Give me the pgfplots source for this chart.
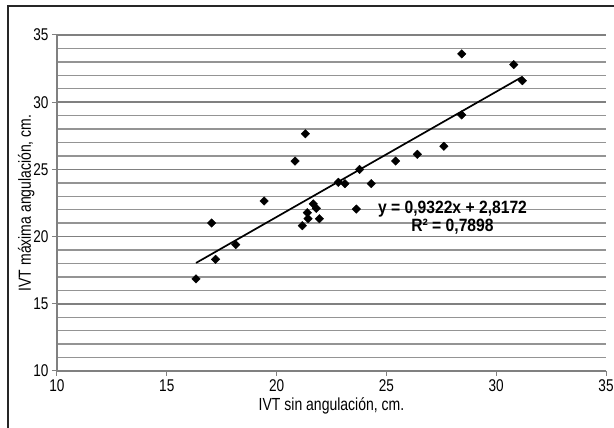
\documentclass[border=0pt]{standalone}
\usepackage{fontspec}
\setmainfont{Liberation Sans}[FakeStretch=0.8]
\newfontfamily\eqfont{Liberation Sans}[FakeStretch=0.88]
\usepackage{pgfplots}
\pgfplotsset{compat=1.18}
\begin{document}
\begin{tikzpicture}[x=1pt,y=1pt]
\useasboundingbox (0,0) rectangle (614,428);
\draw[line width=2.5pt, black!85] (8,0) -- (8,422) -- (614,422);
\begin{axis}[
  at={(57pt,57pt)}, anchor=south west,
  scale only axis, width=549pt, height=336pt,
  xmin=10, xmax=35, ymin=10, ymax=35,
  xtick={10,15,...,35}, ytick={10,15,...,35},
  minor ytick={11,...,34},
  ymajorgrids, yminorgrids,
  major grid style={black!50, line width=1.5pt},
  minor grid style={black!42, line width=1.4pt},
  axis x line*=bottom, axis y line*=left,
  axis line style={black!50, line width=1.6pt, -},
  tick style={black!50, line width=1pt},
  major tick length=5pt, minor tick length=0pt,
  tick align=outside,
  ticklabel style={font=\fontsize{17}{18}\selectfont},
  /pgf/number format/assume math mode=true,
  xlabel={IVT sin angulación, cm.},
  ylabel={IVT máxima angulación, cm.},
  label style={font=\fontsize{17.5}{19}\selectfont},
  xlabel style={at={(axis description cs:0.5,0)}, anchor=base, yshift=-40pt},
  ylabel style={at={(axis description cs:0,0.5)}, anchor=base, yshift=26pt},
  clip=false,
]
\addplot[only marks, black, mark=square*, mark size=3pt, mark options={rotate=45, fill=black}] coordinates {
(16.33,16.85) (17.04,21.01) (17.22,18.31) (18.14,19.40) (19.43,22.65)
(20.84,25.62) (21.31,27.65) (21.17,20.81) (21.40,21.78) (21.43,21.33)
(21.67,22.43) (21.81,22.10) (21.95,21.33) (22.81,24.04) (23.11,23.94)
(23.78,25.00) (23.63,22.05) (24.31,23.94) (25.42,25.62) (26.41,26.12)
(27.62,26.72) (28.43,33.60) (28.43,29.05) (30.80,32.79) (31.19,31.60)
};
\addplot[black, line width=1.7pt] coordinates {(16.33,18.04) (31.19,31.89)};
\node[align=center, font=\eqfont\fontsize{17.8}{18.5}\selectfont\bfseries, inner sep=0pt] at (axis cs:28.01,21.42) {y = 0,9322x + 2,8172\\R² = 0,7898};
\end{axis}
\end{tikzpicture}
\end{document}
